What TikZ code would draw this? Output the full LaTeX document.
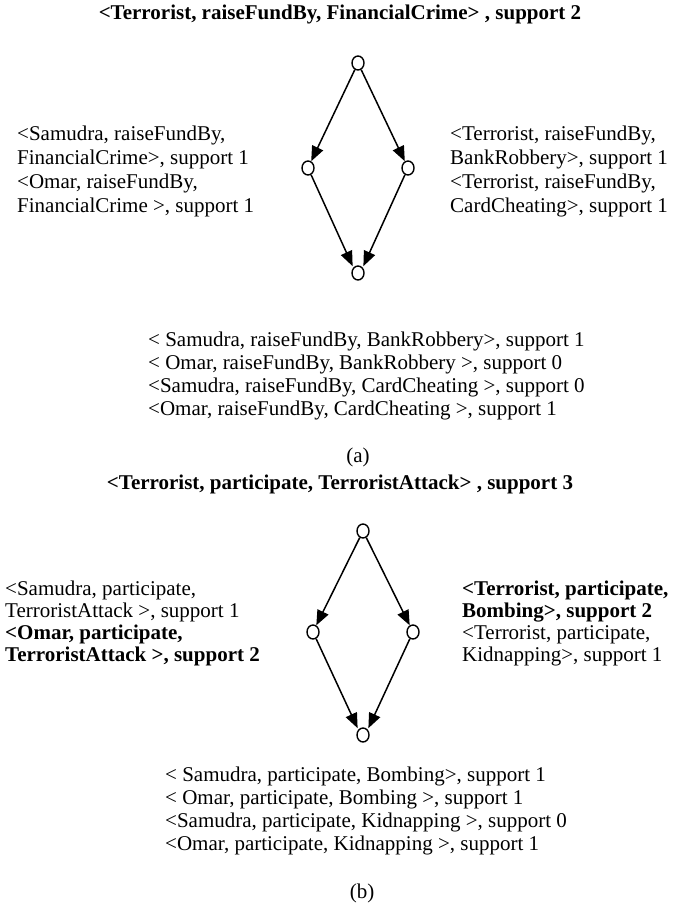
\documentclass[tikz,border=0pt]{standalone}
\usepackage{fontspec}
\setmainfont{Liberation Serif}
\usetikzlibrary{arrows.meta,shapes.geometric}
\begin{document}
\begin{tikzpicture}[x=1pt,y=-1pt,
  vert/.style={draw, ellipse, line width=1.4pt, minimum width=12pt, minimum height=14pt, inner sep=0pt},
  edge/.style={line width=1.5pt, -{Triangle[length=15pt,width=12pt]}},
  txt/.style={anchor=base west, inner sep=0pt, font=\fontsize{21}{23}\selectfont},
  btxt/.style={txt, font=\fontsize{21}{23}\selectfont\bfseries},
  ttl/.style={anchor=base, inner sep=0pt, font=\fontsize{21}{23}\selectfont\bfseries},
  lbl/.style={anchor=base, inner sep=0pt, font=\fontsize{21}{23}\selectfont}]
\useasboundingbox (0,0) rectangle (673,909);

% ---------- (a) ----------
\node[ttl] (ta) at (340,20) {<Terrorist, raiseFundBy, FinancialCrime> , support 2};
\node[vert] (at) at (358,63) {};
\node[vert] (al) at (308,168) {};
\node[vert] (ar) at (408,168) {};
\node[vert] (ab) at (358,273) {};
\draw[edge] (at) -- (al);
\draw[edge] (at) -- (ar);
\draw[edge, shorten >=1.5pt] (al) -- (ab.north west);
\draw[edge, shorten >=1.5pt] (ar) -- (ab.north east);

\node[txt] (aL1) at (17,141) {<Samudra, raiseFundBy,};
\node[txt] (aL2) at (17,165) {FinancialCrime>, support 1};
\node[txt] (aL3) at (17,189) {<Omar, raiseFundBy,};
\node[txt] (aL4) at (17,213) {FinancialCrime >, support 1};

\node[txt] (aR1) at (450,141) {<Terrorist, raiseFundBy,};
\node[txt] (aR2) at (450,165) {BankRobbery>, support 1};
\node[txt] (aR3) at (450,189) {<Terrorist, raiseFundBy,};
\node[txt] (aR4) at (450,213) {CardCheating>, support 1};

\node[txt] (aB1) at (148,346) {< Samudra, raiseFundBy, BankRobbery>, support 1};
\node[txt] (aB2) at (148,369) {< Omar, raiseFundBy, BankRobbery >, support 0};
\node[txt] (aB3) at (148,392) {<Samudra, raiseFundBy, CardCheating >, support 0};
\node[txt] (aB4) at (148,415) {<Omar, raiseFundBy, CardCheating >, support 1};

\node[lbl] (la) at (358,462) {(a)};

% ---------- (b) ----------
\node[ttl] (tb) at (340,489) {<Terrorist, participate, TerroristAttack> , support 3};
\node[vert] (bt) at (363,531) {};
\node[vert] (bl) at (313,632) {};
\node[vert] (br) at (413,632) {};
\node[vert] (bb) at (363,735) {};
\draw[edge] (bt) -- (bl);
\draw[edge] (bt) -- (br);
\draw[edge, shorten >=1.5pt] (bl) -- (bb.north west);
\draw[edge, shorten >=1.5pt] (br) -- (bb.north east);

\node[txt]  (bL1) at (5,595) {<Samudra, participate,};
\node[txt]  (bL2) at (5,617) {TerroristAttack >, support 1};
\node[btxt] (bL3) at (5,639) {<Omar, participate,};
\node[btxt] (bL4) at (5,661) {TerroristAttack >, support 2};

\node[btxt] (bR1) at (462,595) {<Terrorist, participate,};
\node[btxt] (bR2) at (462,617) {Bombing>, support 2};
\node[txt]  (bR3) at (462,639) {<Terrorist, participate,};
\node[txt]  (bR4) at (462,661) {Kidnapping>, support 1};

\node[txt] (bB1) at (165,781) {< Samudra, participate, Bombing>, support 1};
\node[txt] (bB2) at (165,804) {< Omar, participate, Bombing >, support 1};
\node[txt] (bB3) at (165,827) {<Samudra, participate, Kidnapping >, support 0};
\node[txt] (bB4) at (165,850) {<Omar, participate, Kidnapping >, support 1};

\node[lbl] (lb) at (362,898) {(b)};
\end{tikzpicture}
\end{document}
